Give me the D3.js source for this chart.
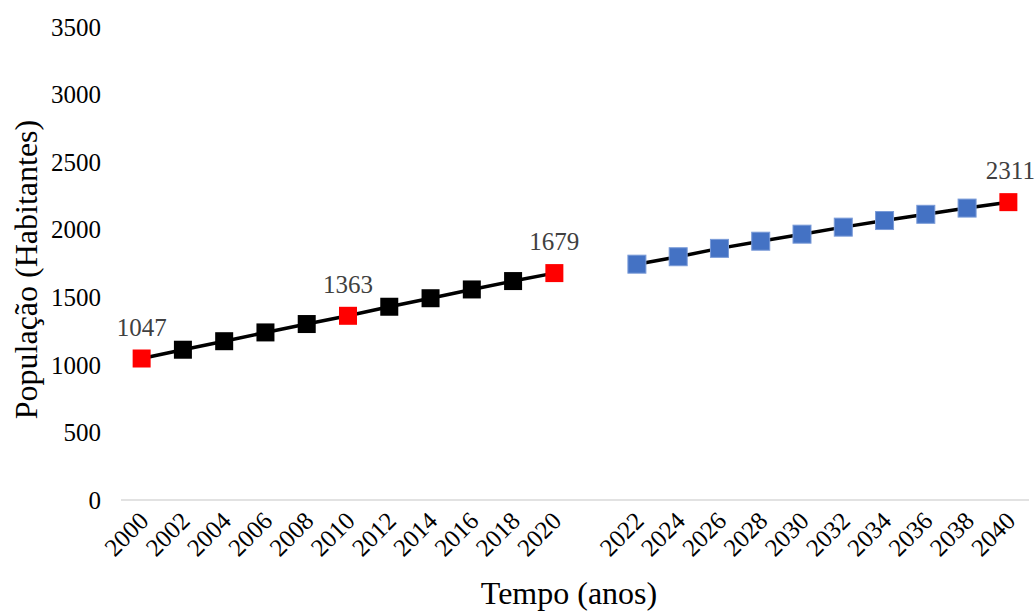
<!DOCTYPE html>
<html>
<head>
<meta charset="utf-8">
<script src="https://cdn.jsdelivr.net/npm/d3@7"></script>
<style>
body { margin: 0; background: #fff; }
svg text { font-family: "Liberation Serif", "Times New Roman", serif; }
</style>
</head>
<body>
<div class="chart"></div>
<script>
const width = 1035;
const height = 613;

// categories (blank slot between 2020 and 2022)
const years = ["2000", "2002", "2004", "2006", "2008", "2010", "2012", "2014", "2016", "2018", "2020", "",
    "2022", "2024", "2026", "2028", "2030", "2032", "2034", "2036", "2038", "2040"];
const pastYears = ["2000", "2002", "2004", "2006", "2008", "2010", "2012", "2014", "2016", "2018", "2020"];
const pastValues = [1047, 1112, 1175, 1240, 1302, 1363, 1430, 1493, 1558, 1620, 1679];
const futureYears = ["2022", "2024", "2026", "2028", "2030", "2032", "2034", "2036", "2038", "2040"];
const futureValues = [1745, 1800, 1862, 1915, 1967, 2019, 2068, 2114, 2160, 2204];
// highlighted points and the labels shown next to them
const labelYears = ["2000", "2010", "2020", "2040"];
const labelTexts = ["1047", "1363", "1679", "2311"];
const yTicks = [0, 500, 1000, 1500, 2000, 2500, 3000, 3500];

const margin = { left: 121, right: 6, top: 27, bottom: 113 };

const svg = d3.select(".chart").append("svg")
    .attr("width", width)
    .attr("height", height);

const x = d3.scaleBand()
    .domain(years)
    .range([margin.left, width - margin.right]);

const y = d3.scaleLinear()
    .domain([0, 3500])
    .range([height - margin.bottom, margin.top]);

const cx = (yr) => x(yr) + x.bandwidth() / 2;

// baseline
svg.append("line")
    .attr("x1", margin.left)
    .attr("x2", width - margin.right)
    .attr("y1", y(0))
    .attr("y2", y(0))
    .attr("stroke", "#d9d9d9")
    .attr("stroke-width", 1.5);

// y tick labels
svg.selectAll(".ytick")
    .data(yTicks)
    .enter()
    .append("text")
    .attr("x", 101)
    .attr("y", (d) => y(d))
    .attr("dy", "0.35em")
    .attr("text-anchor", "end")
    .attr("font-size", 25)
    .attr("fill", "#000")
    .text((d) => d);

// x tick labels
svg.selectAll(".xtick")
    .data(years.filter((d) => d !== ""))
    .enter()
    .append("text")
    .attr("transform", (d) => `translate(${cx(d) - 4},${y(0) + 10}) rotate(-45)`)
    .attr("text-anchor", "end")
    .attr("dy", "0.7em")
    .attr("font-size", 25)
    .attr("fill", "#000")
    .text((d) => d);

// axis titles
svg.append("text")
    .attr("transform", `translate(37,${(y(0) + y(3500)) / 2 + 6}) rotate(-90)`)
    .attr("text-anchor", "middle")
    .attr("font-size", 32)
    .text("População (Habitantes)");

svg.append("text")
    .attr("x", 569)
    .attr("y", 604)
    .attr("text-anchor", "middle")
    .attr("font-size", 32)
    .text("Tempo (anos)");

const line = d3.line()
    .x((d) => cx(d.year))
    .y((d) => y(d.value));

const past = pastYears.map((yr, i) => ({ year: yr, value: pastValues[i] }));
const future = futureYears.map((yr, i) => ({ year: yr, value: futureValues[i] }));

[past, future].forEach((series) => {
    svg.append("path")
        .datum(series)
        .attr("d", line)
        .attr("fill", "none")
        .attr("stroke", "#000")
        .attr("stroke-width", 3.5);
});

const size = 18;
svg.selectAll(".past")
    .data(past)
    .enter()
    .append("rect")
    .attr("x", (d) => cx(d.year) - size / 2)
    .attr("y", (d) => y(d.value) - size / 2)
    .attr("width", size)
    .attr("height", size)
    .attr("fill", (d) => (labelYears.includes(d.year) ? "#ff0000" : "#000"));

svg.selectAll(".future")
    .data(future)
    .enter()
    .append("rect")
    .attr("x", (d) => cx(d.year) - size / 2)
    .attr("y", (d) => y(d.value) - size / 2)
    .attr("width", size)
    .attr("height", size)
    .attr("fill", (d) => (labelYears.includes(d.year) ? "#ff0000" : "#4472c4"))
    .attr("stroke", (d) => (labelYears.includes(d.year) ? "none" : "#7a9bd8"))
    .attr("stroke-width", 1);

// data labels
const allPoints = past.concat(future);
labelYears.forEach((yr, i) => {
    const p = allPoints.find((d) => d.year === yr);
    svg.append("text")
        .attr("x", cx(yr) + (yr === "2040" ? 2 : 0))
        .attr("y", y(p.value) - 23)
        .attr("text-anchor", "middle")
        .attr("font-size", 25)
        .attr("fill", "#404040")
        .text(labelTexts[i]);
});
</script>
</body>
</html>
